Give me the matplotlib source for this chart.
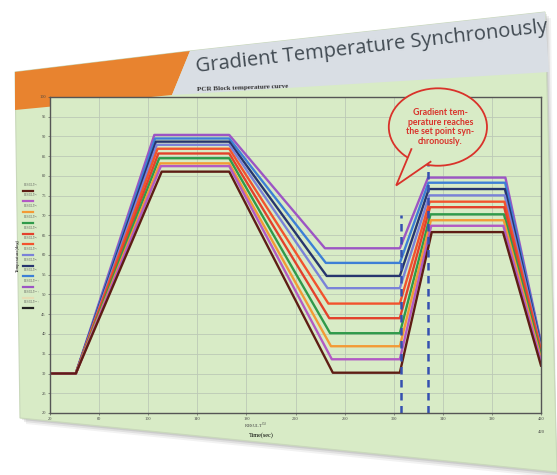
import numpy as np
import matplotlib.pyplot as plt
from matplotlib.patches import Polygon, Ellipse
from matplotlib.lines import Line2D

# --- data (violet = top curve ... brown = bottom curve) ---
series_names = ["RESULT$^{(10)}$", "RESULT$^{(9)}$", "RESULT$^{(8)}$", "RESULT$^{(7)}$",
                "RESULT$^{(6)}$", "RESULT$^{(5)}$", "RESULT$^{(4)}$", "RESULT$^{(3)}$",
                "RESULT$^{(2)}$", "RESULT$^{(1)}$"]
series_colors = ["#9c55c4", "#3d7fd6", "#27356e", "#7a82d8", "#f2532d",
                 "#e3412b", "#2f9a4a", "#f39a35", "#b25ac4", "#5e1d14"]

start_temp = 30.0
t_start = 20
t_ramp = 41
t_up_end = [105, 105.6, 106.3, 107, 107.6, 108.3, 109, 109.6, 110.3, 111]
up_hold = [90.4, 89.5, 88.7, 87.9, 86.9, 85.7, 84.5, 83.2, 82.5, 81.1]
t_fall = 166
t_fall_end = [244, 244.7, 245.4, 246.1, 246.8, 247.5, 248.2, 248.9, 249.6, 250.4]
low_hold = [61.7, 58.0, 54.7, 51.6, 47.7, 44.0, 40.2, 36.9, 33.6, 30.2]
t_rise = 305
t_rise_end = [328, 328.3, 328.6, 329, 329.3, 329.6, 330, 330.3, 330.6, 331]
right_hold = [79.6, 78.3, 76.7, 75.1, 73.5, 72.1, 70.3, 68.8, 67.4, 65.8]
t_drop = [391, 390.8, 390.6, 390.4, 390.2, 390, 389.8, 389.6, 389.3, 389]
t_end = 420
end_temp = [37.8, 37.5, 37.0, 36.5, 36.0, 35.3, 34.6, 33.8, 33.0, 32.0]

sync_x = [306, 328]
sync_top = [70, 88]

legend_labels = ["RESULT$^{(1)}$", "RESULT$^{(2)}$", "RESULT$^{(3)}$", "RESULT$^{(4)}$",
                 "RESULT$^{(5)}$", "RESULT$^{(6)}$", "RESULT$^{(7)}$", "RESULT$^{(8)}$",
                 "RESULT$^{(9)}$", "RESULT$^{(10)}$", "RESULT$^{(11)}$", "RESULT$^{(12)}$"]
legend_colors = ["#5e1d14", "#b25ac4", "#f39a35", "#2f9a4a", "#e3412b", "#f2532d",
                 "#7a82d8", "#27356e", "#3d7fd6", "#9c55c4", "#e6dcb4", "#222222"]

x_ticks = [20, 60, 100, 140, 180, 220, 260, 300, 340, 380, 420]
y_ticks = list(range(20, 101, 5))

W, H = 557, 475
green = "#d8ebc6"
orange = "#e8832f"
header = "#d9dee4"


def fxy(x, y):
    return (x / W, 1 - y / H)


fig = plt.figure(figsize=(W / 100, H / 100), dpi=100)
fig.patch.set_facecolor("white")

# poster shadow + poster panels (flattened photo), kept behind the axes
for k, a in enumerate([0.05, 0.07, 0.09]):
    off = 6 - 2 * k
    sh = [fxy(15 + off, 72 + off), fxy(545 + off, 12 + off), fxy(557, 472 + off),
          fxy(20 + off, 418 + off)]
    fig.add_artist(Polygon(sh, closed=True, facecolor="black", alpha=a, edgecolor="none",
                           zorder=-10))
poster = [fxy(15, 72), fxy(190, 51), fxy(545, 12), fxy(557, 472), fxy(20, 418)]
fig.add_artist(Polygon(poster, closed=True, facecolor=green, edgecolor="#c9d8bb", lw=0.8,
                       zorder=-9))
fig.add_artist(Polygon([fxy(15, 72), fxy(190, 51), fxy(172, 95), fxy(15, 110)],
                       closed=True, facecolor=orange, edgecolor="none", zorder=-8))
fig.add_artist(Polygon([fxy(190, 51), fxy(545, 12), fxy(549, 72), fxy(172, 95)],
                       closed=True, facecolor=header, edgecolor="none", zorder=-8))
fig.text(372 / W, 1 - 47 / H, "Gradient Temperature Synchronously", family="Open Sans",
         fontsize=14.5, color="#414a52", rotation=6.5, ha="center", va="center")

# chart
ax = fig.add_axes([50 / W, 1 - 413 / H, (541 - 50) / W, (413 - 97) / H])
ax.set_facecolor(green)
for i in range(len(series_colors)):
    t = [t_start, t_ramp, t_up_end[i], t_fall, t_fall_end[i], t_rise, t_rise_end[i],
         t_drop[i], t_end]
    v = [start_temp, start_temp, up_hold[i], up_hold[i], low_hold[i], low_hold[i],
         right_hold[i], right_hold[i], end_temp[i]]
    ax.plot(t, v, color=series_colors[i], lw=1.7, solid_joinstyle="round")

for xs, yt in zip(sync_x, sync_top):
    ax.plot([xs, xs], [20, yt], color="#3550b0", lw=1.8, ls=(0, (3, 2.2)))

ax.set_xlim(20, 420)
ax.set_ylim(20, 100)
ax.set_xticks(x_ticks)
ax.set_yticks(y_ticks)
ax.tick_params(labelsize=3.2, length=1.5, width=0.4, pad=1.5, colors="#444444")
for lab in ax.get_xticklabels() + ax.get_yticklabels():
    lab.set_family("Liberation Serif")
ax.grid(True, color="#bcc9b6", lw=0.6)
for s in ax.spines.values():
    s.set_color("#555555")
    s.set_linewidth(1.0)
ax.set_xlabel("Time(sec)", family="Liberation Serif", fontsize=4.5)
ax.xaxis.set_label_coords(0.43, -0.062)
ax.set_ylabel("Temperature(deg)", family="Liberation Serif", fontsize=3.3)
ax.yaxis.set_label_coords(-0.062, 0.5)
ax.text(0.42, -0.025, "RESULT$^{(1)}$", transform=ax.transAxes, family="Liberation Serif",
        fontsize=3.3, ha="center", va="top", color="#444444")
ax.text(1.0, -0.055, "420", transform=ax.transAxes, family="Liberation Serif",
        fontsize=3.3, ha="center", va="top", color="#444444")
ax.text(0.3, 1.015, "PCR Block temperature curve", transform=ax.transAxes,
        family="Liberation Serif", fontsize=5, fontweight="bold", ha="left", va="bottom",
        color="#333333", rotation=2)

# callout bubble
ax.add_patch(Ellipse((0.79, 0.905), 0.2, 0.245, transform=ax.transAxes, facecolor=green,
                     edgecolor="#d9322a", lw=1.3, clip_on=False, zorder=5))
ax.add_patch(Polygon([(0.735, 0.83), (0.705, 0.72), (0.78, 0.80)], closed=True,
                     transform=ax.transAxes, facecolor=green, edgecolor="none",
                     clip_on=False, zorder=6))
ax.plot([0.736, 0.705, 0.775], [0.835, 0.72, 0.795], transform=ax.transAxes,
        color="#d9322a", lw=1.3, clip_on=False, zorder=7, solid_joinstyle="miter")
ax.text(0.795, 0.905, "Gradient tem-\nperature reaches\nthe set point syn-\nchronously.",
        transform=ax.transAxes, family="Lato", fontweight="bold", fontsize=6.3,
        color="#d9322a", ha="center", va="center", linespacing=1.05, zorder=8)

# legend on the left
for k, (lab, col) in enumerate(zip(legend_labels, legend_colors)):
    y = 190.7 + k * 10.7
    fig.text(23 / W, 1 - (y - 2.0) / H, lab, family="Liberation Serif", fontsize=2.1,
             color="#555555", ha="left", va="bottom")
    fig.add_artist(Line2D([23 / W, 33 / W], [1 - y / H, 1 - y / H], color=col, lw=1.6))

fig.savefig("out.png", dpi=100, facecolor=fig.get_facecolor())
